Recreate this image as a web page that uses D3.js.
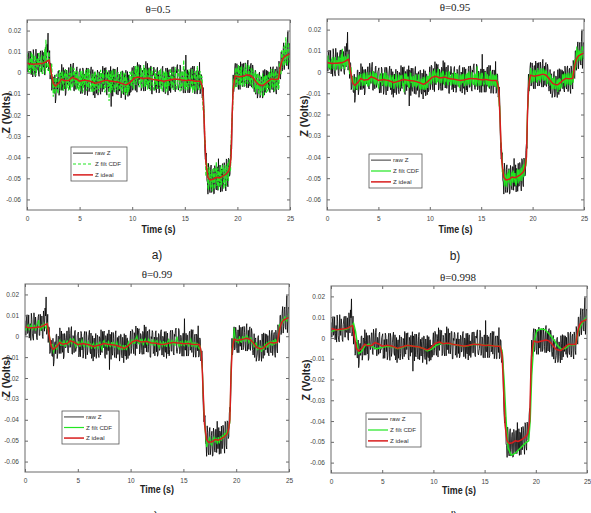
<!DOCTYPE html>
<html><head><meta charset="utf-8">
<script src="https://cdn.jsdelivr.net/npm/d3@7"></script>
<style>body{margin:0;background:#fff}svg{display:block}</style>
</head><body><svg id="chart" width="591" height="513"></svg>
<script>
// ---------------- DATA (Z in millivolts, time in seconds) ----------------
// samples at t = 0.0, 0.1, ... 25.0
const time = d3.range(251).map(i => i / 10);
// samples at t = 0.05, 0.15, ... 24.95
const timeMid = d3.range(250).map(i => i / 10 + 0.05);

const rawZ_mV = [
 7.5,0.4,10.3,2.2,-0.9,6.0,11.0,1.1,-1.9,5.2,
 9.2,-0.7,6.3,10.4,0.4,3.5,9.7,-1.1,9.2,13.5,
 18.8,3.0,-3,4,-7.5,-2,-9.7,-14.3,-3.8,-8.4,
 1.0,-8.3,-0.6,4.0,-8.3,-5.6,1.2,-9.7,-0.6,-4.6,
 2.5,-8.0,1.4,-5.2,4.6,-8.6,-0.8,2.0,-7.3,-5.6,
 1.0,-9.9,-0.8,2.3,-6.6,-10.5,0.4,-5.7,2.2,-8.9,
 -2.0,2.8,-8.4,-10.6,0.2,-4.0,-9.8,1.3,-7.5,-0.4,
 -10.2,-1.1,3.1,-7.8,-5.6,2.5,-10.6,-1.7,1.2,-6.9,
 -16.0,0.0,1.9,-9.1,-1.2,-10.2,2.6,-6.5,-8.7,0.2,
 -8.0,0.8,-10.4,-3.6,1.2,-9.5,-11.2,-0.9,-3.5,-9.0,
 2.5,-6.0,2.5,-8.4,-0.2,4.9,-6.0,-3.2,3.6,-7.6,
 0.2,-8.7,1.4,5.4,-5.5,-7.5,2.4,-4.8,3.1,-10.1,
 -1.2,1.7,-7.3,-9.4,2.6,-0.5,-8.6,0.3,-5.8,3.1,
 -9.0,-0.9,2.2,-7.7,-10.6,1.5,-1.4,-6.3,2.8,-7.1,
 1.0,-9.0,-0.1,3.9,-8.2,-5.2,2.7,-7.4,-0.5,-9.5,
 1.4,8.4,-6.6,-9.5,0.5,-8.5,2.4,-5.7,-7.8,3.1,
 -7.0,1.0,-10.0,0.0,5.0,-9.0,-1.5,-11,-13,-36,
 -39,-51,-57.5,-46.2,-56.8,-43.7,-53.6,-45.5,-57.2,-45.8,
 -55.5,-44.6,-40.7,-53.8,-56.5,-46.3,-43.0,-53.7,-44.4,-56.0,
 -41.5,-54,-41,-48,-34,-23,-1,-6,4.5,-5.6,
 2.2,-7.9,3.0,5.2,-4.7,-6.6,4.5,-5.4,1.8,-7.1,
 6.0,-4.1,-6.3,4.5,-4.0,1.5,-9.0,1.2,-1.5,-12.0,
 -8.5,0.3,-10.8,-2.0,-12.0,-2.8,1.6,-9.0,-6.5,0.9,
 0.3,-9.4,0.0,-8.0,2.9,-6.2,1.8,-10.1,1.0,-8.0,
 3,-3,10,2.5,14.2,4.8,14,3.3,19.5,6.8,
 13];
const rawZMid_mV = [
 0.5,9.4,1.3,10.2,2.1,-2.0,8.1,-0.9,11.2,1.2,
 6.3,-1.7,9.4,0.4,10.5,2.6,-0.2,12.1,2.4,9.7,
 0.9,10.5,4.5,-8.3,-1.8,-9.4,-1.0,-12.1,-2.6,0.8,
 -10.7,0.0,-8.3,-1.2,2.5,-7.7,-10.8,1.3,-5.6,2.4,
 -7.3,4.2,-5.4,2.7,-8.5,0.3,-7.9,2.8,-5.5,0.2,
 2.0,-7.9,-9.8,1.3,-0.6,-8.6,2.3,-10.8,0.1,-7.0,
 0.9,-7.3,1.5,-9.7,-11.9,-0.9,-2.8,-10.6,0.5,-8.3,
 -0.2,-9.0,-6.9,2.3,1.4,-9.6,0.3,-8.8,-6.9,3.0,
 1.0,-11.1,-8.1,1.8,-7.2,0.7,-10.5,-0.6,-1.8,-11.9,
 0.9,-9.3,-0.5,-12.7,-8.7,0.6,-1.1,-10.7,-9.3,-0.8,
 -8.3,3.2,-5.5,1.7,-9.2,-4.1,3.9,2.7,-8.5,1.3,
 -6.8,2.3,-8.6,-5.6,4.5,1.4,-7.7,3.1,-10.0,-0.2,
 2.7,-8.3,-0.4,1.6,-7.5,-9.6,1.3,-6.8,2.1,-9.0,
 0.0,-9.9,-6.8,2.3,-0.6,-8.5,-9.4,1.7,-7.2,2.9,
 -8.0,0.9,2.9,-7.2,-6.2,3.7,-8.4,0.5,-9.5,1.4,
 -9.6,-6.6,1.4,0.5,-9.5,1.4,-6.7,3.2,1.1,-10.0,
 0.0,-10.0,1.0,-7.0,-10.0,-0.8,-11.8,-7,-28,-41,
 -38,-51.8,-42.9,-55.5,-45.8,-56.7,-47.6,-57.4,-44.0,-54.7,
 -44.6,-55.7,-53.8,-43.7,-45.4,-56.2,-53.9,-42.6,-52.2,-40.8,
 -52.3,-40.5,-49,-37,-36,-10,-9,2.2,-6.6,4.3,
 -5.9,3.0,-7.9,-4.8,4.3,2.4,-6.5,4.7,-4.2,3.9,
 -7.1,2.8,3.6,-6.8,3.7,-6.8,-6.4,-10.2,-0.8,-10.3,
 -0.6,-11.8,-1.9,-9.0,1.1,-10.6,-9.2,1.2,0.7,-7.9,
 -8.6,2.8,-7.0,1.9,-9.2,0.8,-8.2,2.9,-6.0,5.5,
 -2.5,10.0,0.8,10.9,1.5,12.9,4.2,14.4,1.7,13.9];

const idealZ_mV = [
 4.5,4.4,4.3,4.2,4.1,4.0,4.0,4.1,4.1,4.2,
 4.2,4.3,4.3,4.4,4.4,4.5,4.7,4.9,5.2,5.5,
 5.8,6.0,3,0,-2.5,-5,-5.7,-6.3,-5.8,-5.4,
 -5.0,-4.3,-3.6,-3.0,-3.3,-3.6,-3.8,-3.7,-3.6,-3.6,
 -3.5,-3.0,-2.6,-2.2,-2.4,-2.6,-2.8,-3.0,-3.3,-3.6,
 -4.0,-3.9,-3.8,-3.7,-3.6,-3.5,-3.6,-3.7,-3.8,-3.9,
 -4.0,-4.2,-4.4,-4.6,-4.8,-5.0,-4.8,-4.7,-4.5,-4.4,
 -4.2,-4.1,-3.9,-3.8,-3.6,-3.5,-3.6,-3.7,-3.8,-3.9,
 -4.0,-4.0,-4.1,-4.1,-4.2,-4.2,-4.4,-4.5,-4.7,-4.8,
 -5.0,-5.2,-5.4,-5.6,-5.8,-5.5,-5.2,-4.9,-4.5,-4.0,
 -3.5,-3.0,-2.5,-2.4,-2.2,-2.1,-2.0,-2.2,-2.4,-2.6,
 -2.8,-2.7,-2.6,-2.6,-2.5,-2.5,-2.6,-2.8,-2.9,-3.1,
 -3.2,-3.3,-3.3,-3.4,-3.4,-3.5,-3.6,-3.7,-3.8,-3.9,
 -4.0,-3.9,-3.8,-3.7,-3.6,-3.5,-3.4,-3.3,-3.2,-3.1,
 -3.0,-3.0,-3.1,-3.1,-3.2,-3.2,-3.3,-3.4,-3.5,-3.5,
 -3.6,-3.6,-3.6,-3.5,-3.5,-3.5,-3.6,-3.7,-3.8,-3.9,
 -4.0,-4.0,-4.0,-4.0,-4.0,-4.0,-5.5,-8,-18,-30,
 -42,-46,-49.5,-50.2,-50.8,-50.7,-50.6,-50.5,-50.2,-49.8,
 -49.5,-49.6,-49.7,-49.8,-49.5,-49.3,-49.0,-48.7,-48.4,-48.0,
 -47.5,-47,-46,-44,-40,-20,-8,-4,-1.5,-1.6,
 -1.8,-1.9,-2.0,-1.8,-1.7,-1.6,-1.5,-1.4,-1.2,-1.1,
 -1.0,-1.1,-1.3,-1.5,-2.0,-2.5,-3.0,-3.8,-4.5,-5.0,
 -5.5,-5.7,-5.8,-6.0,-6.0,-5.8,-5.4,-5.0,-4.5,-4.1,
 -3.7,-3.4,-3.0,-3.0,-3.1,-3.2,-3.2,-3.1,-3.0,-3.0,
 0,3.0,5.0,6.5,7.2,7.8,8.0,8.3,8.5,8.8,
 9.0];

const filt05_mV = [
 9.3,2.8,0.3,5.8,9.7,1.6,-0.8,4.9,8.1,0.2,
 5.8,9.1,1.1,3.6,8.4,-0.3,7.9,11.3,15.6,3.1,
 1.0,9.2,-1.0,2.4,-5.7,-11.4,-4.1,-8.7,-1.0,-8.6,
 -2.6,1.3,-7.6,-4.6,0.7,-8.4,-1.4,-4.5,1.2,-7.6,
 -0.3,-5.4,3.0,-7.0,-0.8,1.4,-6.0,-4.6,0.7,-8.4,
 -1.6,0.9,-6.2,-9.3,-0.4,-5.1,1.2,-7.7,-2.2,1.7,
 -7.2,-9.0,-0.4,-3.8,-8.8,-0.2,-7.2,-1.5,-9.3,-2.0,
 1.4,-7.3,-5.5,1.0,-9.2,-1.9,0.4,-6.1,-13.4,-0.7,
 0.8,-8.0,-1.7,-8.9,1.4,-5.8,-7.6,-0.5,-7.1,0.0,
 -9.0,-3.6,0.2,-8.8,-10.6,-2.3,-4.4,-8.9,0.3,-6.4,
 0.5,-7.8,-0.9,3.2,-5.4,-2.9,2.8,-6.2,0.0,-7.4,
 0.4,3.7,-5.0,-6.6,1.5,-4.1,2.2,-8.4,-1.3,0.9,
 -6.4,-8.1,1.5,-1.0,-7.4,-0.3,-5.2,1.9,-7.8,-1.5,
 0.8,-7.1,-9.4,0.3,-2.0,-5.9,1.4,-6.5,0.0,-7.9,
 -0.6,2.6,-7.1,-4.7,1.6,-6.4,-0.9,-8.2,0.5,6.1,
 -6.0,-8.4,-0.4,-7.5,1.3,-5.1,-6.8,1.9,-6.2,0.1,
 -8.8,-0.8,3.2,-8.0,-0.8,-6.4,-1.5,-12.8,-15.6,-34,
 -48.4,-42.8,-54.3,-44.6,-53.2,-46.7,-56.2,-47.3,-55.0,-45.8,
 -42.3,-52.8,-55.3,-47.4,-44.7,-53.3,-45.8,-55.1,-43.6,-53.6,
 -43.5,-50.2,-41.2,-46.4,-34.4,-21.6,-3.2,-7.2,1.7,-6.4,
 2.2,3.7,-4.4,-5.8,3.1,-4.8,0.9,-6.2,4.4,-3.5,
 -5.0,3.7,-2.9,1.7,-6.8,1.5,-0.6,-9.4,-6.9,-0.2,
 -9.5,-2.5,-10.6,-3.6,-0.4,-9.0,-7.0,-1.0,-1.3,-8.9,
 -1.3,-7.4,1.8,-5.4,0.9,-8.8,0.0,-7.1,-0.6,-7.8,
 4.0,-0.2,10.6,4.1,12.0,3.8,16.8,6.7,11.7,11.2,
 5.8];
const filt05Mid_mV = [
 7.7,0.4,6.7,-0.6,5.7,8.8,0.9,8.1,-1.4,6.6,
 2.7,9.1,0.4,7.6,-0.3,6.2,8.8,-0.5,7.8,2.5,
 9.9,-0.3,-0.9,4.3,-5.4,-2.2,-10.0,-1.3,-8.0,-10.0,
 0.1,-7.2,0.7,-4.8,-8.3,-0.5,1.8,-7.7,-2.0,-8.4,
 -0.1,-8.4,0.0,-6.3,2.3,-5.1,1.1,-8.0,-1.9,-7.0,
 -8.8,-0.7,1.0,-7.7,-6.0,0.4,-8.5,1.8,-7.1,-1.6,
 -8.1,-1.9,-9.3,-0.7,0.7,-8.1,-6.4,0.2,-8.5,-1.1,
 -7.4,0.0,-1.5,-8.5,-7.6,1.2,-6.9,0.2,-1.5,-9.6,
 -8.0,1.5,-0.9,-9.0,-1.8,-8.3,0.3,-7.8,-7.2,0.7,
 -9.9,-2.1,-9.5,-0.1,-3.3,-10.2,-8.3,0.1,-0.3,-6.2,
 0.7,-7.6,-0.1,-5.5,3.4,-0.5,-6.9,-6.3,2.3,-5.9,
 0.4,-6.7,2.2,-0.2,-8.1,-5.8,1.3,-7.7,2.6,-5.6,
 -8.1,0.7,-5.8,-7.4,-0.3,1.2,-7.7,-1.4,-8.7,0.0,
 -7.2,0.9,-1.4,-8.5,-6.0,0.5,1.4,-7.3,0.0,-7.9,
 1.0,-6.3,-7.9,0.0,-0.8,-8.9,0.6,-6.7,1.3,-7.6,
 1.2,-1.2,-7.6,-6.7,1.3,-7.6,-1.3,-9.4,-7.9,0.8,
 -7.2,0.8,-8.0,-1.6,0.8,-8.0,-2.8,-17.8,-20.8,-32,
 -48.8,-44.6,-55.5,-46.5,-54.8,-45.9,-53.0,-44.8,-54.8,-45.7,
 -53.6,-44.9,-46.6,-54.5,-52.6,-43.6,-44.9,-53.4,-45.0,-53.4,
 -43.3,-51.3,-41.8,-46,-25.2,-17.2,-3.6,-6.8,2.4,-6.5,
 1.3,-6.0,2.9,0.6,-6.5,-4.8,2.5,-6.1,1.2,-5.1,
 3.7,-4.4,-5.4,2.2,-7.1,0.4,-1.0,0.6,-8.0,-1.3,
 -9.6,-1.0,-9.1,-3.6,-11.5,-1.6,-2.0,-9.6,-8.3,-0.7,
 0.4,-8.0,0.2,-7.1,1.6,-6.4,0.8,-7.9,-0.6,-7.1,
 4.7,-0.8,9.8,3.7,12.3,3.9,11.4,3.6,14.3,4.9];

const filt095_mV = [
 5.5,7.9,2.8,1.2,4.6,6.5,1.5,5.1,7.1,2.2,
 3.7,6.8,1.3,6.4,8.4,11.0,3.2,1.9,7.2,3.0,
 7.3,4.0,-1.0,1.0,-4.0,-2.0,-7.7,-4.8,-2.3,-7.9,
 -6.0,-1.8,-6.6,-1.5,-3.8,-0.6,-6.3,-1.7,-5.1,-0.1,
 -6.5,-2.0,-0.1,-4.2,-3.4,-0.1,-5.8,-1.5,-0.3,-5.1,
 -7.5,-1.9,-4.8,-0.7,-6.1,-2.5,-0.1,-5.7,-6.8,-1.4,
 -3.5,-6.7,-1.4,-6.1,-2.8,-8.0,-3.3,-1.2,-6.5,-5.4,
 -1.2,-7.6,-2.9,-1.3,-5.1,-9.5,-1.6,-0.7,-6.3,-2.4,
 -7.0,-0.5,-5.1,-6.1,-1.7,-5.7,-1.4,-7.0,-3.7,-1.3,
 -7.0,-8.2,-3.4,-5.1,-8.3,-2.5,-6.7,-2.4,-7.5,-3.0,
 0.0,-5.0,-3.0,0.6,-4.7,-0.6,-5.0,-0.2,1.6,-4.1,
 -5.3,-0.2,-3.6,0.4,-6.0,-1.5,-0.1,-4.8,-5.9,-0.1,
 -1.7,-5.8,-1.3,-4.4,0.1,-6.0,-2.1,-0.7,-5.8,-7.4,
 -1.5,-2.9,-5.3,-0.7,-5.6,-1.5,-6.4,-1.8,0.3,-5.6,
 -4.0,0.0,-5.1,-1.6,-6.2,-0.7,2.7,-4.9,-6.5,-1.5,
 -6.1,-0.6,-4.6,-5.5,0.0,-5.0,-1.1,-6.7,-1.8,0.6,
 -6.5,-2.0,-5.5,-1.5,-7.0,-2.5,-8.0,-12,-16,-33,
 -38.5,-47.5,-47.0,-53.7,-48.8,-53.7,-48.1,-46.0,-52.2,-53.3,
 -48.0,-46.6,-52.2,-47.8,-53.5,-46.3,-52.5,-46.2,-50.4,-45.0,
 -49.0,-43.5,-47.0,-41.0,-42.0,-18.0,-11.0,-1.5,2.0,-3.1,
 -4.3,1.1,-4.0,-0.3,-4.7,1.9,-3.0,-3.9,1.8,-2.1,
 1.0,-4.1,1.2,0.0,-5.5,-4.0,0.0,-6.3,-2.5,-8.0,
 -4.0,-2.2,-7.8,-7.0,-3.5,-3.8,-8.4,-3.5,-7.0,-1.1,
 -5.2,-0.9,-6.5,-1.0,-5.6,-1.7,-6.2,-0.6,-5.0,0.5,
 -1.5,6.0,2.5,12.0,6.2,9.8,9.5,6.3,11.5,7.8,
 6.5];
const filt095Mid_mV = [
 6.5,1.9,5.8,1.2,5.1,7.0,2.1,6.6,0.7,5.7,
 3.3,7.3,1.9,6.4,1.5,5.6,7.3,1.6,6.9,3.7,
 8.4,1.5,0.0,2.2,-4.8,-3.4,-8.5,-3.1,-7.1,-8.2,
 -1.7,-6.0,-0.8,-4.2,-6.5,-1.7,-0.3,-6.2,-2.6,-6.6,
 -1.3,-6.3,-0.9,-4.8,0.5,-4.2,-0.4,-6.2,-2.5,-5.8,
 -7.0,-1.9,-0.8,-6.2,-5.1,-1.1,-6.7,-0.3,-5.9,-2.5,
 -6.6,-2.8,-7.5,-2.2,-1.4,-6.9,-5.8,-1.6,-7.0,-2.3,
 -6.2,-1.5,-2.4,-6.7,-6.1,-0.6,-5.7,-1.3,-2.4,-7.5,
 -6.5,-0.6,-2.1,-7.2,-2.7,-6.8,-1.5,-6.6,-6.3,-1.4,
 -8.1,-3.3,-8.0,-2.2,-4.2,-8.4,-7.1,-1.7,-1.8,-5.3,
 -0.8,-5.8,-1.0,-4.3,1.3,-1.1,-5.1,-4.8,0.5,-4.7,
 -0.8,-5.2,0.4,-1.1,-6.0,-4.6,-0.2,-5.9,0.5,-4.7,
 -6.3,-0.8,-4.9,-5.9,-1.5,-0.6,-6.2,-2.3,-6.9,-1.5,
 -6.0,-0.9,-2.3,-6.7,-5.1,-1.0,-0.4,-5.8,-1.2,-6.1,
 -0.5,-5.1,-6.1,-1.2,-1.7,-6.8,-0.9,-5.5,-0.5,-6.1,
 -0.6,-2.1,-6.1,-5.5,-0.5,-6.1,-2.2,-7.3,-6.4,-1.0,
 -6.0,-1.0,-6.5,-2.5,-1.0,-6.8,-4.3,-16,-22,-33.5,
 -47,-45.8,-53.4,-48.0,-53.3,-47.7,-52.1,-46.9,-53.0,-47.2,
 -52.1,-46.7,-47.8,-52.7,-51.4,-45.7,-46.4,-51.6,-46.2,-51.3,
 -44.8,-49.5,-43,-44.5,-27,-16,-4.5,-5.3,0.9,-4.7,
 0.1,-4.5,1.1,-0.3,-4.7,-3.6,1.0,-4.3,0.3,-3.6,
 1.9,-3.2,-3.9,0.7,-5.3,-0.8,-1.9,-1.2,-6.8,-2.8,
 -8.1,-2.8,-7.9,-4.5,-9.4,-3.1,-3.2,-7.8,-6.8,-1.9,
 -1.1,-6.2,-1.0,-5.6,-0.2,-5.2,-0.7,-6.1,-1.5,-5.0,
 3.5,1.0,8.3,4.9,10.5,5.4,10.2,5.4,12.2,6.4];

const filt099_mV = [
 3.7,2.9,4.6,5.5,2.8,4.5,5.5,3.1,3.8,5.5,
 2.7,5.3,6.3,7.7,3.6,3.0,5.7,3.6,6.0,4.5,
 3.8,6.5,2.2,1.5,-3.5,-4.2,-3.9,-7.6,-6.3,-4.1,
 -6.5,-3.5,-3.9,-1.5,-4.6,-2.6,-4.6,-1.9,-5.1,-3.1,
 -2.2,-4.0,-3.1,-0.9,-3.9,-1.8,-1.3,-3.8,-5.1,-2.6,
 -4.5,-2.4,-5.1,-3.2,-1.8,-4.5,-5.1,-2.4,-3.5,-5.2,
 -2.5,-5.0,-3.4,-6.1,-4.0,-3.2,-5.8,-5.2,-3.0,-6.2,
 -3.7,-2.8,-4.7,-6.8,-2.6,-2.0,-4.9,-2.9,-5.3,-2.1,
 -4.5,-5.0,-2.8,-4.9,-2.7,-5.5,-3.9,-2.7,-5.7,-6.3,
 -4.0,-4.9,-6.7,-4.1,-6.6,-4.2,-6.7,-4.4,-2.7,-5.0,
 -3.8,-1.5,-3.8,-1.6,-3.7,-1.1,0.0,-3.0,-3.7,-1.3,
 -3.3,-1.2,-4.4,-2.1,-1.2,-3.5,-4.1,-1.3,-2.1,-4.4,
 -2.2,-3.8,-1.5,-4.7,-2.6,-2.0,-4.6,-5.5,-2.5,-3.4,
 -4.8,-2.4,-4.8,-2.7,-5.1,-2.7,-1.6,-4.6,-3.7,-1.6,
 -4.0,-2.2,-4.6,-1.8,-0.2,-4.0,-4.8,-2.4,-4.8,-2.0,
 -4.1,-4.6,-1.8,-4.3,-2.2,-5.0,-2.6,-1.4,-5.1,-2.9,
 -4.8,-2.7,-5.5,-3.2,-5.3,-6.0,-4.5,-9.5,-16.2,-30.8,
 -40.7,-47.8,-53.0,-51.7,-49.5,-48.4,-51.6,-52.3,-49.4,-48.3,
 -50.8,-48.6,-51.7,-48.3,-51.3,-48.0,-50.0,-47.2,-49.2,-46.2,
 -48.0,-45.5,-47.0,-43.0,-41.5,-18.7,-6.2,-4.8,4.0,-0.1,
 -2.8,-1.1,-3.5,0.0,-2.5,-2.9,0.0,-1.9,-0.2,-2.6,
 0.3,-0.3,-3.1,-2.3,-0.5,-3.8,-2.0,-5.3,-3.7,-3.2,
 -6.5,-6.2,-4.5,-5.0,-7.5,-5.0,-6.7,-3.5,-5.3,-2.8,
 -5.5,-2.4,-4.3,-2.2,-4.6,-1.9,-4.2,-1.3,-3.8,-1.5,
 -1.3,5.8,4.5,7.5,8.0,6.8,9.5,7.8,7.2,9.3,
 10.8];

const smoothTime = [0,0.5,1,1.5,2.0,2.2,2.4,2.7,3.0,3.3,
 3.7,4.0,4.4,5.0,5.5,6.0,6.5,7.0,7.5,8.0,
 8.5,9.0,9.4,9.8,10.3,10.8,11.5,12.0,12.5,13.0,
 13.5,14.0,14.5,15.0,15.5,16.0,16.5,16.7,16.9,17.1,
 17.3,17.6,18.0,18.5,19.0,19.3,19.45,19.6,19.8,20.1,
 20.5,20.9,21.3,21.7,22.1,22.5,22.9,23.3,23.7,23.9,
 24.1,24.4,24.7,25];
const filt0998_mV = [3.0,4.0,4.0,4.2,5.5,7.0,3.0,-7.5,-6.5,-3.8,
 -3.0,-4.0,-5.3,-4.5,-4.0,-4.2,-5.2,-4.5,-3.5,-4.0,
 -4.2,-5.0,-6.2,-5.5,-3.5,-2.6,-2.8,-3.2,-3.6,-4.0,
 -3.6,-3.0,-3.2,-3.6,-3.5,-4.0,-4.0,-6,-20,-40,
 -53,-56.5,-55.5,-53,-50.5,-49.5,-40,-18,-3,3.5,
 4.3,4.0,2.0,-0.5,-3.5,-5.5,-5.0,-3.2,-3.4,-3.0,
 2.5,6.0,8.5,10.5];

const xTicks = [0, 5, 10, 15, 20, 25];
const yTicks = [0.02, 0.01, 0, -0.01, -0.02, -0.03, -0.04, -0.05, -0.06];
const yTickLabels = ["0.02", "0.01", "0", "-0.01", "-0.02", "-0.03", "-0.04", "-0.05", "-0.06"];
const thetaLabels = ["\u03b8=0.5", "\u03b8=0.95", "\u03b8=0.99", "\u03b8=0.998"];
const panelLetters = ["a)", "b)", "c)", "d)"];
const legendLabels = ["raw Z", "Z filt CDF", "Z ideal"];
const xLabel = "Time (s)";
const yLabel = "Z (Volts)";

// ---------------- helpers ----------------
const toVolts = v => v / 1000;
// merge two sample sets (whole-tenth and mid-tenth samples) in time order
function merge(tA, zA, tB, zB) {
  const pts = tA.map((t, i) => [t, zA[i]]).concat(tB.map((t, i) => [t, zB[i]]));
  return pts.sort((a, b) => a[0] - b[0]);
}
const rawPts = merge(time, rawZ_mV, timeMid, rawZMid_mV);
const idealPts = time.map((t, i) => [t, idealZ_mV[i]]);
const filtSeries = [
  { pts: merge(time, filt05_mV, timeMid, filt05Mid_mV), dashed: true, w: 1.15 },
  { pts: merge(time, filt095_mV, timeMid, filt095Mid_mV), dashed: false, w: 1.1 },
  { pts: time.map((t, i) => [t, filt099_mV[i]]), dashed: false, w: 1.1 },
  { pts: smoothTime.map((t, i) => [t, filt0998_mV[i]]), dashed: false, w: 1.5 }
];

// ---------------- LAYOUT ----------------
const panels = [
  { L: 27, R: 290, T: 20, B: 210, titleY: 13, titleX: 158, yLabX: 10, yLabY: 113, xLabY: 233,
    letX: 157, letY: 259, leg: [71, 147, 56, 34] },
  { L: 327, R: 584, T: 19, B: 210, titleY: 11, titleX: 455, yLabX: 308, yLabY: 116, xLabY: 233,
    letX: 455, letY: 260, leg: [369, 154, 53, 34] },
  { L: 25, R: 289, T: 284, B: 472, titleY: 278, titleX: 157, yLabX: 10, yLabY: 377, xLabY: 493,
    letX: 153, letY: 520, leg: [62, 411, 57, 33] },
  { L: 331, R: 587, T: 286, B: 473, titleY: 281, titleX: 458, yLabX: 310, yLabY: 380, xLabY: 494,
    letX: 452, letY: 520, leg: [366, 413, 55, 34] }
];

const COL_RAW = "#000";
const COL_FILT = "#22e622";
const COL_IDEAL = "#d81c1c";
const AXIS_COL = "#6a6a6a";
const SANS = "'Liberation Sans', Arial, sans-serif";
const SERIF = "'Liberation Serif', 'DejaVu Serif', 'Times New Roman', serif";

const svg = d3.select("#chart");
svg.append("rect").attr("width", 591).attr("height", 513).attr("fill", "#fff");
const defs = svg.append("defs");

panels.forEach((p, k) => {
  const x = d3.scaleLinear().domain([0, 25]).range([p.L, p.R]);
  const y = d3.scaleLinear().domain([-0.065, 0.025]).range([p.B, p.T]);
  const g = svg.append("g");

  const clipId = "clip" + k;
  defs.append("clipPath").attr("id", clipId)
    .append("rect").attr("x", p.L).attr("y", p.T).attr("width", p.R - p.L).attr("height", p.B - p.T);

  const plot = g.append("g").attr("clip-path", `url(#${clipId})`);
  const line = d3.line().x(d => x(d[0])).y(d => y(toVolts(d[1])));

  plot.append("path").datum(rawPts)
    .attr("d", line).attr("fill", "none").attr("stroke", COL_RAW).attr("stroke-width", 0.8);
  const f = filtSeries[k];
  plot.append("path").datum(f.pts)
    .attr("d", line).attr("fill", "none").attr("stroke", COL_FILT)
    .attr("stroke-width", f.w)
    .attr("stroke-dasharray", f.dashed ? "4,1.5" : null);
  plot.append("path").datum(idealPts)
    .attr("d", line).attr("fill", "none").attr("stroke", COL_IDEAL).attr("stroke-width", 1.5);

  // frame
  g.append("rect").attr("x", p.L).attr("y", p.T).attr("width", p.R - p.L).attr("height", p.B - p.T)
    .attr("fill", "none").attr("stroke", AXIS_COL).attr("stroke-width", 1);

  // axes with inward ticks on all four sides
  const styleAxis = sel => {
    sel.select(".domain").remove();
    sel.selectAll(".tick line").attr("stroke", AXIS_COL);
    sel.selectAll("text").attr("font-family", SANS).attr("font-size", 6.5).attr("fill", "#444");
  };
  g.append("g").attr("transform", `translate(0,${p.B})`)
    .call(d3.axisBottom(x).tickValues(xTicks).tickSizeInner(-3).tickSizeOuter(0).tickPadding(6).tickFormat(d3.format("d")))
    .call(styleAxis);
  g.append("g").attr("transform", `translate(0,${p.T})`)
    .call(d3.axisTop(x).tickValues(xTicks).tickSizeInner(-3).tickSizeOuter(0).tickFormat(""))
    .call(styleAxis);
  g.append("g").attr("transform", `translate(${p.L},0)`)
    .call(d3.axisLeft(y).tickValues(yTicks).tickSizeInner(-3).tickSizeOuter(0).tickPadding(6)
      .tickFormat((d, i) => yTickLabels[i]))
    .call(styleAxis);
  g.append("g").attr("transform", `translate(${p.R},0)`)
    .call(d3.axisRight(y).tickValues(yTicks).tickSizeInner(-3).tickSizeOuter(0).tickFormat(""))
    .call(styleAxis);

  // title
  g.append("text").attr("x", p.titleX).attr("y", p.titleY).attr("text-anchor", "middle")
    .attr("font-family", SERIF).attr("font-size", 11).attr("fill", "#222").text(thetaLabels[k]);
  // axis labels
  g.append("text").attr("x", (p.L + p.R) / 2).attr("y", p.xLabY).attr("text-anchor", "middle")
    .attr("font-family", SANS).attr("font-weight", "bold").attr("font-size", 11)
    .attr("textLength", 34).attr("lengthAdjust", "spacingAndGlyphs")
    .attr("fill", "#222").text(xLabel);
  g.append("text").attr("transform", `translate(${p.yLabX},${p.yLabY}) rotate(-90)`)
    .attr("text-anchor", "middle").attr("font-family", SANS).attr("font-weight", "bold")
    .attr("font-size", 10.5).attr("fill", "#222").text(yLabel);
  // panel letter
  g.append("text").attr("x", p.letX).attr("y", p.letY).attr("text-anchor", "middle")
    .attr("font-family", SANS).attr("font-size", 12).attr("fill", "#222").text(panelLetters[k]);

  // legend
  const [lx, ly, lw, lh] = p.leg;
  const lg = g.append("g");
  lg.append("rect").attr("x", lx).attr("y", ly).attr("width", lw).attr("height", lh)
    .attr("fill", "#fff").attr("stroke", "#555").attr("stroke-width", 0.8);
  const cols = [COL_RAW, COL_FILT, COL_IDEAL];
  legendLabels.forEach((lab, j) => {
    const yy = ly + lh * (0.18 + 0.32 * j);
    lg.append("line").attr("x1", lx + 2).attr("x2", lx + 22).attr("y1", yy).attr("y2", yy)
      .attr("stroke", cols[j]).attr("stroke-width", j === 2 ? 1.5 : (j === 0 ? 0.8 : 1.2))
      .attr("stroke-dasharray", j === 1 && f.dashed ? "3,2" : null);
    lg.append("text").attr("x", lx + 24).attr("y", yy + 2.2).attr("font-family", SANS)
      .attr("font-size", 6.2).attr("fill", "#333").text(lab);
  });
});
</script>
</body></html>
